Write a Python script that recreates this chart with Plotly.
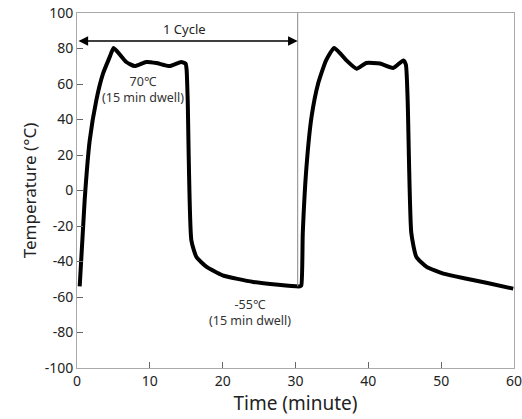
import plotly.graph_objects as go

# Temperature profile (time in minutes, temperature in °C)
time_min = [0.37, 1.05, 1.74, 2.65, 3.57, 4.49, 5.03, 6.0, 6.76, 7.92, 9.5, 10.9, 12.7, 14.3, 14.9, 15.05,
            15.2, 15.7, 16.4, 17.8, 20.0, 24.2, 30.6,
            30.8, 31.0, 31.5, 32.2, 33.1, 34.2, 35.3, 36.2, 37.0, 38.4, 39.7, 41.6, 43.4, 44.8, 45.15,
            45.4, 45.9, 46.6, 48.0, 50.3, 53.5, 56.2, 59.9]
temp_c = [-54, -5.5, 28, 50.8, 65.8, 75.2, 80.3, 76.0, 72.4, 70.1, 72.4, 71.8, 70.1, 72.4, 71.5, 68,
          50.8, -28, -37.5, -43, -47.8, -51.5, -54,
          -53.4, -24, 13, 41.4, 60.2, 73.3, 80.3, 77.0, 73.3, 68.6, 71.8, 71.5, 69, 73.3, 71.0,
          50.8, -24, -37.5, -43, -46.8, -49.7, -52, -55.3]

cycle_end = 30.3
x_ticks = [0, 10, 20, 30, 40, 50, 60]
y_ticks = [-100, -80, -60, -40, -20, 0, 20, 40, 60, 80, 100]
y_tick_labels = ["-100", "-80", "-60", "-40", "-20", "0", "20", "40", "60", "80", "100"]

fig = go.Figure()
fig.add_trace(go.Scatter(x=time_min, y=temp_c, mode="lines",
                         line=dict(color="black", width=4, shape="spline", smoothing=0.5),
                         showlegend=False, hoverinfo="skip"))
# vertical cycle boundary
fig.add_trace(go.Scatter(x=[cycle_end, cycle_end], y=[100, -54], mode="lines",
                         line=dict(color="#888888", width=1), showlegend=False, hoverinfo="skip"))

# double-headed arrow
fig.add_annotation(x=cycle_end, y=84.2, ax=0, ay=84.2, xref="x", yref="y", axref="x", ayref="y",
                   showarrow=True, arrowhead=2, arrowside="end+start", arrowsize=1.2, arrowwidth=1.6,
                   arrowcolor="black", text="")
fig.add_annotation(x=14.8, y=91, text="1 Cycle", showarrow=False,
                   font=dict(size=13, color="#222222", family="Noto Sans"))
fig.add_annotation(x=9.0, y=57, text="70℃<br>(15 min dwell)", showarrow=False,
                   font=dict(size=12.5, color="#333333", family="Noto Sans"))
fig.add_annotation(x=23.7, y=-68.5, text="-55℃<br>(15 min dwell)", showarrow=False,
                   font=dict(size=12.5, color="#333333", family="Noto Sans"))

fig.update_layout(
    width=522, height=419,
    margin=dict(l=77, r=8, t=13, b=51, autoexpand=False),
    paper_bgcolor="white", plot_bgcolor="white",
    font=dict(family="Noto Sans", color="#222222"),
    hovermode=False,
    xaxis=dict(range=[0, 60], tickvals=x_ticks, showgrid=False, zeroline=False,
               showline=True, linecolor="#aaaaaa", linewidth=1, mirror=True,
               ticks="inside", ticklen=6, tickcolor="#666666", automargin=False,
               ticklabeloverflow="allow",
               tickfont=dict(size=14, color="#222222"),
               title=dict(text="Time (minute)", font=dict(size=19, color="#222222"), standoff=3)),
    yaxis=dict(range=[-100, 100], tickvals=y_ticks, ticktext=y_tick_labels, showgrid=False, zeroline=False,
               showline=True, linecolor="#aaaaaa", linewidth=1, mirror=True,
               ticks="inside", ticklen=6, tickcolor="#666666", automargin=False,
               ticklabeloverflow="allow",
               tickfont=dict(size=14, color="#222222"),
               title=dict(text="Temperature (°C)", font=dict(size=17, color="#222222"), standoff=3)),
)

# remove the page's default 8px body margin so the 522x419 figure fills the window exactly
fig.write_html("out.html", config={"displayModeBar": False},
               post_script="document.body.style.margin='0';")
